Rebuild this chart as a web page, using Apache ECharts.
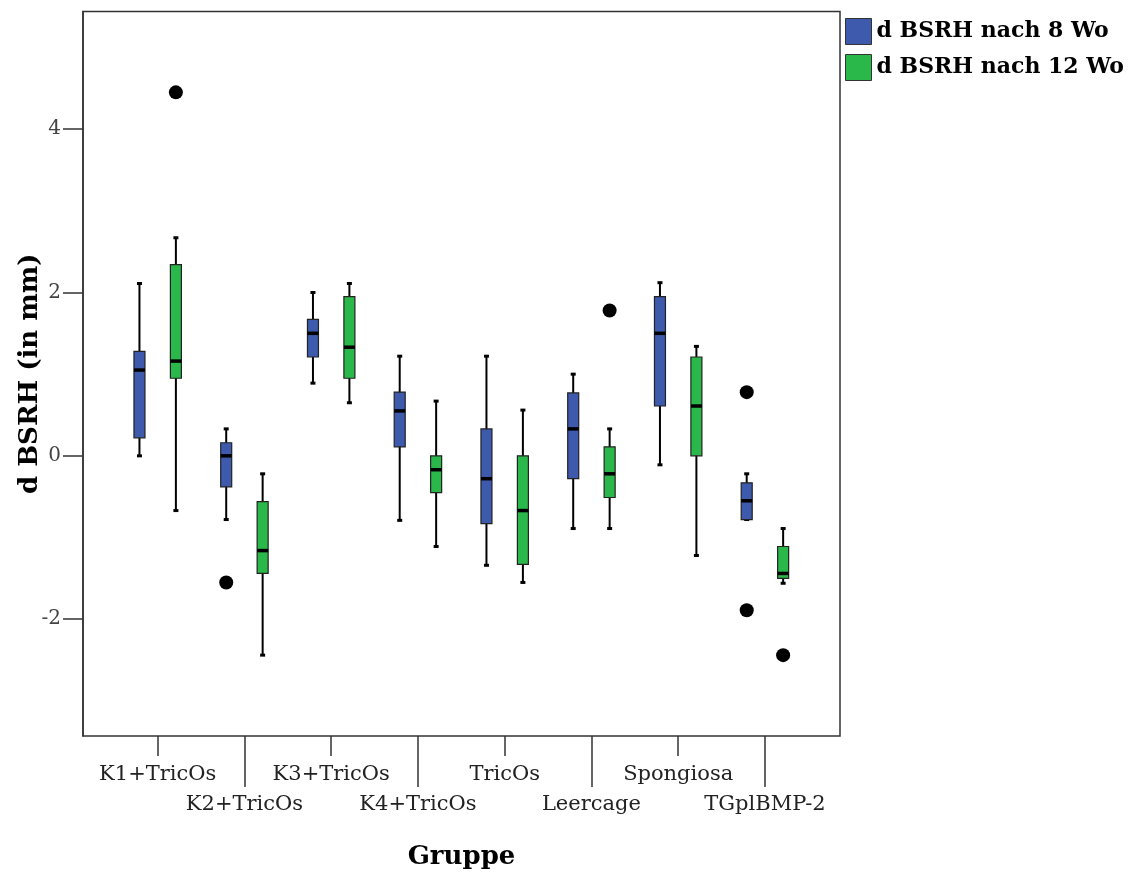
<!DOCTYPE html>
<html lang="de">

<head>
    <meta charset="UTF-8">
    <title>d BSRH</title>
    <script src="https://cdn.jsdelivr.net/npm/echarts@6.0.0/dist/echarts.min.js"></script>
    <style>
        html, body { margin: 0; padding: 0; background: #fff; }
    </style>
</head>

<body>
    <div id="chart" style="width: 1133px; height: 874px;"></div>
</body>

<script>
    // Gruppen
    const groups = ['K1+TricOs', 'K2+TricOs', 'K3+TricOs', 'K4+TricOs', 'TricOs', 'Leercage', 'Spongiosa', 'TGplBMP-2'];
    const yTicks = [-2, 0, 2, 4];

    // [min, Q1, Median, Q3, max]
    const week8 = [
        [0.00, 0.22, 1.05, 1.28, 2.11],
        [-0.78, -0.38, 0.00, 0.16, 0.33],
        [0.89, 1.21, 1.50, 1.67, 2.00],
        [-0.79, 0.11, 0.55, 0.78, 1.22],
        [-1.34, -0.83, -0.28, 0.33, 1.22],
        [-0.89, -0.28, 0.33, 0.77, 1.00],
        [-0.11, 0.61, 1.50, 1.95, 2.12],
        [-0.78, -0.78, -0.55, -0.33, -0.22]
    ];
    const week12 = [
        [-0.67, 0.95, 1.16, 2.34, 2.67],
        [-2.44, -1.44, -1.16, -0.56, -0.22],
        [0.65, 0.95, 1.33, 1.95, 2.11],
        [-1.11, -0.45, -0.17, 0.00, 0.67],
        [-1.55, -1.33, -0.67, 0.00, 0.56],
        [-0.89, -0.51, -0.22, 0.11, 0.33],
        [-1.22, 0.00, 0.61, 1.21, 1.34],
        [-1.56, -1.50, -1.44, -1.11, -0.89]
    ];
    // Ausreisser [Gruppe, Wert]
    const week8Out = [[1, -1.55], [7, 0.78], [7, -1.89]];
    const week12Out = [[0, 4.45], [5, 1.78], [7, -2.44]];

    const names = ['d BSRH nach 8 Wo', 'd BSRH nach 12 Wo'];
    const colors = ['#3d5aad', '#2bb84a'];
    const yMin = -3.43, yMax = 5.44;
    const serif = 'DejaVu Serif';

    function boxItem(sign, color) {
        return function (params, api) {
            const bw = api.size([1, 0])[0];
            const x = api.coord([api.value(0), 0])[0] + sign * bw * 0.21;
            const y = i => api.coord([api.value(0), api.value(i)])[1];
            const lo = y(1), q1 = y(2), med = y(3), q3 = y(4), hi = y(5);
            const hw = 5.5;
            return {
                type: 'group',
                children: [
                    { type: 'line', shape: { x1: x, y1: hi, x2: x, y2: lo }, style: { stroke: '#000', lineWidth: 2 } },
                    { type: 'line', shape: { x1: x - 2.5, y1: hi, x2: x + 2.5, y2: hi }, style: { stroke: '#000', lineWidth: 3 } },
                    { type: 'line', shape: { x1: x - 2.5, y1: lo, x2: x + 2.5, y2: lo }, style: { stroke: '#000', lineWidth: 3 } },
                    {
                        type: 'rect',
                        shape: { x: x - hw, y: q3, width: hw * 2, height: q1 - q3 },
                        style: { fill: color, stroke: '#222', lineWidth: 1.2 }
                    },
                    { type: 'line', shape: { x1: x - hw, y1: med, x2: x + hw, y2: med }, style: { stroke: '#000', lineWidth: 3.5 } }
                ]
            };
        };
    }

    // two category axes on the bottom: short ticks for the first row, long ticks for the second
    function catAxis(row) {
        const pick = i => i % 2 === row;
        return {
            type: 'category', gridIndex: 1, data: groups, position: 'bottom', offset: 0,
            axisLine: { show: true, onZero: false, lineStyle: { color: 'rgba(0,0,0,0)', width: 0 } },
            axisTick: { show: true, alignWithLabel: true, length: row ? 51 : 20, interval: pick, lineStyle: { color: '#333', width: 1.5 } },
            axisLabel: { show: true, interval: pick, margin: row ? 58 : 28, fontFamily: serif, fontSize: 21, color: '#222' }
        };
    }

    const chart = echarts.init(document.getElementById('chart'));

    chart.setOption({
        animation: false,
        grid: [
            { left: 83, top: 11.5, width: 757, height: 724.5, show: true, borderColor: '#333', borderWidth: 1.5, backgroundColor: '#fff', outerBoundsMode: 'none', containLabel: false },
            { left: 114.3, top: 11.5, width: 694, height: 724.5, outerBoundsMode: 'none', containLabel: false }
        ],
        legend: {
            orient: 'vertical',
            left: 840,
            top: 13,
            icon: 'rect',
            itemWidth: 26,
            itemHeight: 26,
            itemGap: 9,
            textStyle: { fontFamily: serif, fontWeight: 'bold', fontSize: 22, color: '#000' },
            data: names.map(n => ({ name: n, itemStyle: { borderColor: '#333', borderWidth: 1 } }))
        },
        xAxis: [
            {
                type: 'value', gridIndex: 0, min: 0, max: 1, position: 'bottom',
                name: 'Gruppe', nameLocation: 'middle', nameGap: 108,
                nameTextStyle: { fontFamily: serif, fontWeight: 'bold', fontSize: 26, color: '#000' },
                axisLine: { show: false }, axisTick: { show: false }, axisLabel: { show: false }, splitLine: { show: false }
            },
            catAxis(0),
            catAxis(1)
        ],
        yAxis: [
            {
                type: 'value', gridIndex: 0, min: yMin, max: yMax,
                name: 'd BSRH (in mm)', nameLocation: 'middle', nameGap: 40, nameMoveOverlap: false,
                nameTextStyle: { fontFamily: serif, fontWeight: 'bold', fontSize: 26, color: '#000' },
                axisLine: { show: true, lineStyle: { color: '#333', width: 1.5 } },
                axisTick: { show: true, length: 20, customValues: yTicks, lineStyle: { color: '#333', width: 1.5 } },
                axisLabel: { customValues: yTicks, margin: 22, fontFamily: serif, fontSize: 20, color: '#444' },
                splitLine: { show: false }
            },
            {
                type: 'value', gridIndex: 1, min: yMin, max: yMax, show: false, splitLine: { show: false }
            }
        ],
        series: [
            {
                name: names[0], type: 'custom', xAxisIndex: 1, yAxisIndex: 1,
                itemStyle: { color: colors[0] },
                renderItem: boxItem(-1, colors[0]),
                encode: { x: 0, y: [1, 2, 3, 4, 5] },
                data: week8.map((r, i) => [i].concat(r))
            },
            {
                name: names[1], type: 'custom', xAxisIndex: 1, yAxisIndex: 1,
                itemStyle: { color: colors[1] },
                renderItem: boxItem(1, colors[1]),
                encode: { x: 0, y: [1, 2, 3, 4, 5] },
                data: week12.map((r, i) => [i].concat(r))
            },
            {
                type: 'scatter', xAxisIndex: 1, yAxisIndex: 1,
                symbolSize: 14, symbolOffset: [-18.2, 0],
                itemStyle: { color: '#000', opacity: 1 },
                data: week8Out
            },
            {
                type: 'scatter', xAxisIndex: 1, yAxisIndex: 1,
                symbolSize: 14, symbolOffset: [18.2, 0],
                itemStyle: { color: '#000', opacity: 1 },
                data: week12Out
            }
        ]
    });
</script>

</html>
